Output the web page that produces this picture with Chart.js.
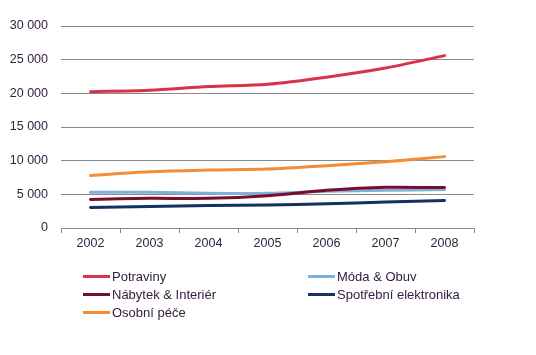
<!DOCTYPE html>
<html>
<head>
<meta charset="utf-8">
<script src="https://cdn.jsdelivr.net/npm/chart.js@4/dist/chart.umd.min.js"></script>
<style>
  html, body { margin: 0; padding: 0; background: #ffffff; }
  #wrap { position: relative; width: 536px; height: 355px; }
  #c { position: absolute; left: 0; top: 0; }
  .leg { position: absolute; font-family: "Liberation Sans", Arial, sans-serif; font-size: 13px; color: #35203f; line-height: 18px; white-space: nowrap; }
  .leg span.mk { display: inline-block; width: 27px; height: 3px; vertical-align: middle; margin-right: 2px; position: relative; top: -1px; }
</style>
</head>
<body>
<div id="wrap">
  <canvas id="c" width="536" height="355"></canvas>
  <div id="legend"></div>
</div>
<script>
const categories = ["2002", "2003", "2004", "2005", "2006", "2007", "2008"];
const seriesNames = ["Potraviny", "Móda & Obuv", "Nábytek & Interiér", "Spotřební elektronika", "Osobní péče"];
const potraviny = [20250, 20450, 21000, 21350, 22400, 23750, 25600];
const modaObuv = [5300, 5300, 5150, 5150, 5450, 5600, 5700];
const nabytek = [4250, 4400, 4400, 4800, 5600, 6050, 6000];
const elektronika = [3050, 3200, 3350, 3400, 3600, 3850, 4100];
const osobniPece = [7800, 8350, 8600, 8750, 9250, 9850, 10600];
const yTicks = [0, 5000, 10000, 15000, 20000, 25000, 30000];

const colors = ["#d9334a", "#7fb0d8", "#7a0c2e", "#13325f", "#f58b32"];
const seriesData = [potraviny, modaObuv, nabytek, elektronika, osobniPece];

const textColor = "#35203f";
const gridColor = "#8a8a8a";
const font = { family: "'Liberation Sans', Arial, sans-serif", size: 12.5 };

function fmt(v) {
  return String(v).replace(/\B(?=(\d{3})+(?!\d))/g, " ");
}

const datasets = seriesNames.map((name, i) => ({
  label: name,
  data: seriesData[i],
  borderColor: colors[i],
  backgroundColor: colors[i],
  borderWidth: 3,
  pointRadius: 0,
  tension: 0.3,
  borderCapStyle: "round",
  fill: false,
  order: seriesNames.length - 1 - i
}));

new Chart(document.getElementById("c"), {
  type: "line",
  data: { labels: categories, datasets: datasets },
  options: {
    responsive: false,
    animation: false,
    layout: { padding: { left: 0, right: 62, top: 26, bottom: 0 } },
    plugins: { legend: { display: false }, tooltip: { enabled: false } },
    scales: {
      x: {
        offset: true,
        grid: { display: true, drawOnChartArea: false, drawTicks: true, tickLength: 5, color: gridColor, offset: true },
        border: { display: true, color: gridColor, width: 1 },
        ticks: { color: textColor, font: font, padding: 3, maxRotation: 0 },
        afterFit: (s) => { s.height = 127; }
      },
      y: {
        min: 0,
        max: 30000,
        afterBuildTicks: (s) => { s.ticks = yTicks.map(v => ({ value: v })); },
        grid: { color: gridColor, lineWidth: 1, drawTicks: false },
        border: { display: false },
        ticks: { color: textColor, font: font, padding: 13, callback: (v) => fmt(v) },
        afterFit: (s) => { s.width = 61; }
      }
    }
  }
});

// HTML legend in two columns
const legendPos = [
  { x: 83, y: 268 }, { x: 308, y: 268 },
  { x: 83, y: 286 }, { x: 308, y: 286 },
  { x: 83, y: 304 }
];
const legendEl = document.getElementById("legend");
seriesNames.forEach((name, i) => {
  const d = document.createElement("div");
  d.className = "leg";
  d.style.left = legendPos[i].x + "px";
  d.style.top = legendPos[i].y + "px";
  const mk = document.createElement("span");
  mk.className = "mk";
  mk.style.background = colors[i];
  d.appendChild(mk);
  d.appendChild(document.createTextNode(name));
  legendEl.appendChild(d);
});
</script>
</body>
</html>
